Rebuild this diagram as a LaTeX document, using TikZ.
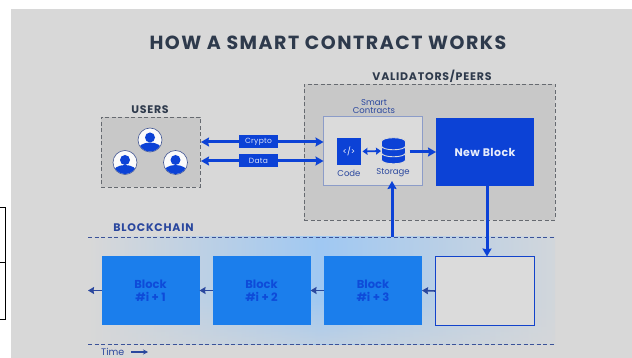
\documentclass[tikz,border=0pt]{standalone}
\usepackage{fontspec}
\setmainfont{Poppins}
\usetikzlibrary{arrows.meta,fadings}
\definecolor{panel}{HTML}{D8D8D8}
\definecolor{greybox}{HTML}{C8C8C8}
\definecolor{dashc}{HTML}{666A70}
\definecolor{titlec}{HTML}{2E3A4C}
\definecolor{deep}{HTML}{0C42D6}
\definecolor{navy}{HTML}{2A479E}
\definecolor{bblue}{HTML}{1B7EEC}
\definecolor{bandblue}{HTML}{A0C8F2}
\definecolor{innerbox}{HTML}{DBDBDB}
\definecolor{innerline}{HTML}{8C9CC8}
\tikzset{
  dashbox/.style={draw=dashc,line width=.9pt,fill=greybox,inner sep=0pt,outer sep=0pt,dash pattern=on 4pt off 2.5pt},
  dashrule/.style={draw=navy!80!gray,line width=.8pt,dash pattern=on 4pt off 2.5pt},
  headtext/.style={font=\fontsize{11}{12}\selectfont\bfseries\addfontfeatures{LetterSpace=7},text=titlec,inner sep=0pt},
  solidblue/.style={fill=deep,draw=none,inner sep=0pt,outer sep=0pt,align=center},
  blockbox/.style={fill=bblue,draw=none,inner sep=0pt,outer sep=0pt,minimum width=98pt,minimum height=69pt,align=center,text=deep!85!bblue,font=\fontsize{11.5}{13}\selectfont\bfseries},
  tagbox/.style={solidblue,minimum width=39pt,minimum height=13pt,text=white!85!deep,font=\fontsize{7.5}{8}\selectfont\addfontfeatures{LetterSpace=4}},
  smalltext/.style={inner sep=0pt,text=navy,align=center,font=\fontsize{8.5}{8.5}\selectfont},
  thick link/.style={draw=deep,line width=3pt,-{Stealth[length=8pt,width=9pt,inset=1pt]}},
  twoway/.style={draw=deep,line width=3pt,{Stealth[length=8pt,width=9pt,inset=1pt]}-{Stealth[length=8pt,width=9pt,inset=1pt]}},
  chain link/.style={draw=navy,line width=1.6pt,-{Stealth[length=6pt,width=7pt,inset=.5pt]}},
  person/.style={circle,draw=navy!70!gray,line width=.6pt,fill=white!90!innerbox,minimum size=24pt,inner sep=0pt,outer sep=0pt}
}
\begin{document}
\begin{tikzpicture}[x=1pt,y=-1pt]
\useasboundingbox (0,0) rectangle (632,358);
\fill[white] (0,0) rectangle (632,358);
\draw[black,line width=.9pt] (0,207) -- (5,207) -- (5,319) -- (0,319) (0,262) -- (5,262);
\fill[panel] (11,9) rectangle (632,358);
% blockchain band
\fill[left color=panel,right color=panel!88!bandblue,middle color=bandblue,shading angle=90] (88,237) rectangle (555,344);
\fill[panel,path fading=north,opacity=.55] (88,300) rectangle (555,344);
\draw[dashrule] (88,237) -- (555,237);
\draw[dashrule] (88,344) -- (555,344);
% headings
\node[inner sep=0pt,text=titlec,font=\fontsize{19}{20}\selectfont\bfseries\addfontfeatures{LetterSpace=8}] (title) at (328,43) {HOW A SMART CONTRACT WORKS};
\node[headtext] (userslabel) at (150,110) {USERS};
\node[headtext] (vallabel) at (432,76) {VALIDATORS/PEERS};
\node[headtext,text=navy] (chainlabel) at (153.5,228) {BLOCKCHAIN};
% users
\node[dashbox,minimum width=99pt,minimum height=70pt] (users) at (150.5,152) {};
\foreach \n/\cx/\cy in {ua/150/140,ub/125/162.5,uc/175.5/162.5}{
  \node[person] (\n) at (\cx,\cy) {};
  \begin{scope}
    \clip (\cx,\cy) circle (11.6);
    \fill[deep] (\cx,\cy-2.5) circle (5);
    \fill[deep] (\cx,\cy+10) ellipse (12 and 7.5);
  \end{scope}
}
% validators
\node[dashbox,minimum width=251pt,minimum height=136pt] (val) at (429.5,152) {};
\node[draw=innerline,line width=1pt,fill=innerbox,inner sep=0pt,outer sep=0pt,minimum width=99pt,minimum height=69pt] (smart) at (373,151.5) {};
\node[smalltext,font=\fontsize{8.5}{8}\selectfont] (smartlabel) at (374,107) {Smart\\Contracts};
\node[solidblue,minimum width=24pt,minimum height=27pt,text=white,font=\fontsize{8}{8}\selectfont] (code) at (349,151.5) {</>};
\node[smalltext] (codelabel) at (349,173) {Code};
\node[smalltext] (storagelabel) at (393,173) {Storage};
\node[inner sep=0pt,outer sep=0pt,minimum width=24pt,minimum height=27pt] (storage) at (393.5,151) {};
\foreach \yy in {157.5,150.5,143.5}{
  \fill[deep,draw=innerbox,line width=.9pt] (381.5,\yy-2) -- (381.5,\yy+2.5) arc[start angle=180,end angle=0,x radius=12,y radius=3.8] -- (405.5,\yy-2) arc[start angle=0,end angle=-180,x radius=12,y radius=3.8] -- cycle;
}
\node[solidblue,minimum width=98pt,minimum height=68pt,text=white!90!deep,font=\fontsize{11}{12}\selectfont\bfseries\addfontfeatures{LetterSpace=4}] (newblock) at (485,152) {New Block};
% tags and links
\draw[twoway,shorten <=1pt] (users.east |- 0,142) coordinate (ca) -- (smart.west |- 0,142) coordinate (cb);
\draw[twoway,shorten <=1pt] (users.east |- 0,161) coordinate (da) -- (smart.west |- 0,161) coordinate (db);
\node[tagbox] (crypto) at (258.5,142) {Crypto};
\node[tagbox] (data) at (258.5,161) {Data};
\draw[draw=deep,line width=1.8pt,{Stealth[length=5pt,width=7pt,inset=.5pt]}-{Stealth[length=5pt,width=7pt,inset=.5pt]},shorten <=1.5pt,shorten >=.5pt] (code.east) -- (storage.west);
\draw[thick link,shorten <=4pt] (storage.east |- 0,152) -- (newblock.west |- 0,152);
% blocks
\node[blockbox] (b1) at (150.5,290.5) {Block\\\#i + 1};
\node[blockbox] (b2) at (261.5,290.5) {Block\\\#i + 2};
\node[blockbox] (b3) at (373,290.5) {Block\\\#i + 3};
\node[draw=deep!80!navy,line width=1.2pt,fill=innerbox,inner sep=0pt,outer sep=0pt,minimum width=99pt,minimum height=69pt] (b4) at (485,291) {};
\coordinate (tail) at (88,290.5);
\draw[chain link] (b1.west) -- (tail);
\draw[chain link] (b2.west) -- (b1.east);
\draw[chain link] (b3.west) -- (b2.east);
\draw[chain link] (b4.west) -- (b3.east);
% vertical links
\coordinate (chaintop) at (392,237);
\draw[thick link] (chaintop) -- (392,181) coordinate (storagefoot);
\draw[thick link] (newblock.south -| 487,0) -- (b4.north -| 487,0);
% time
\node[inner sep=0pt,text=navy,font=\fontsize{9.5}{10}\selectfont,anchor=west] (time) at (101,352) {Time};
\coordinate (timeend) at (148,352);
\draw[draw=navy,line width=1.3pt,-{Stealth[length=5pt,width=5pt]}] (131,352) -- (timeend);
\end{tikzpicture}
\end{document}
